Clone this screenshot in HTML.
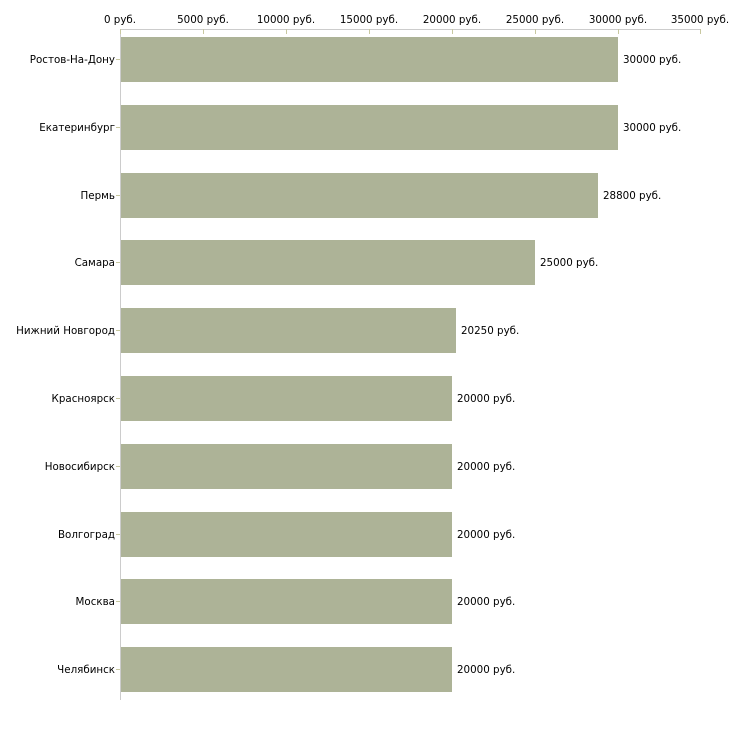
<!DOCTYPE html><html><head><meta charset="utf-8"><style>body{margin:0;background:#fff}</style></head><body>
<svg width="730" height="730" xmlns="http://www.w3.org/2000/svg" font-family="DejaVu Sans, sans-serif" font-size="10.3" fill="#000">
<line x1="120" y1="29.5" x2="701" y2="29.5" stroke="#ccc"/>
<line x1="120.5" y1="29" x2="120.5" y2="700" stroke="#ccc"/>
<g stroke="#c8c8a0">
<line x1="120.5" y1="29" x2="120.5" y2="34"/><line x1="203.5" y1="29" x2="203.5" y2="34"/><line x1="286.5" y1="29" x2="286.5" y2="34"/><line x1="369.5" y1="29" x2="369.5" y2="34"/><line x1="452.5" y1="29" x2="452.5" y2="34"/><line x1="535.5" y1="29" x2="535.5" y2="34"/><line x1="618.5" y1="29" x2="618.5" y2="34"/><line x1="700.5" y1="29" x2="700.5" y2="34"/>
</g>
<g text-anchor="middle">
<text x="120" y="23">0 руб.</text><text x="203" y="23">5000 руб.</text><text x="286" y="23">10000 руб.</text><text x="369" y="23">15000 руб.</text><text x="452" y="23">20000 руб.</text><text x="535" y="23">25000 руб.</text><text x="618" y="23">30000 руб.</text><text x="700" y="23">35000 руб.</text>
</g>
<g fill="#adb397">
<rect x="121" y="37" width="497" height="45"/>
<rect x="121" y="105" width="497" height="45"/>
<rect x="121" y="173" width="477" height="45"/>
<rect x="121" y="240" width="414" height="45"/>
<rect x="121" y="308" width="335" height="45"/>
<rect x="121" y="376" width="331" height="45"/>
<rect x="121" y="444" width="331" height="45"/>
<rect x="121" y="512" width="331" height="45"/>
<rect x="121" y="579" width="331" height="45"/>
<rect x="121" y="647" width="331" height="45"/>
</g>
<g stroke="#c8c8a0">
<line x1="116" y1="59.5" x2="120" y2="59.5"/><line x1="116" y1="127.5" x2="120" y2="127.5"/><line x1="116" y1="195.5" x2="120" y2="195.5"/><line x1="116" y1="262.5" x2="120" y2="262.5"/><line x1="116" y1="330.5" x2="120" y2="330.5"/><line x1="116" y1="398.5" x2="120" y2="398.5"/><line x1="116" y1="466.5" x2="120" y2="466.5"/><line x1="116" y1="534.5" x2="120" y2="534.5"/><line x1="116" y1="601.5" x2="120" y2="601.5"/><line x1="116" y1="669.5" x2="120" y2="669.5"/>
</g>
<g text-anchor="end">
<text x="115" y="63">Ростов-На-Дону</text><text x="115" y="131">Екатеринбург</text><text x="115" y="199">Пермь</text><text x="115" y="266">Самара</text><text x="115" y="334">Нижний Новгород</text><text x="115" y="402">Красноярск</text><text x="115" y="470">Новосибирск</text><text x="115" y="538">Волгоград</text><text x="115" y="605">Москва</text><text x="115" y="673">Челябинск</text>
</g>
<g>
<text x="623" y="63">30000 руб.</text><text x="623" y="131">30000 руб.</text><text x="603" y="199">28800 руб.</text><text x="540" y="266">25000 руб.</text><text x="461" y="334">20250 руб.</text><text x="457" y="402">20000 руб.</text><text x="457" y="470">20000 руб.</text><text x="457" y="538">20000 руб.</text><text x="457" y="605">20000 руб.</text><text x="457" y="673">20000 руб.</text>
</g>
</svg>
</body></html>
